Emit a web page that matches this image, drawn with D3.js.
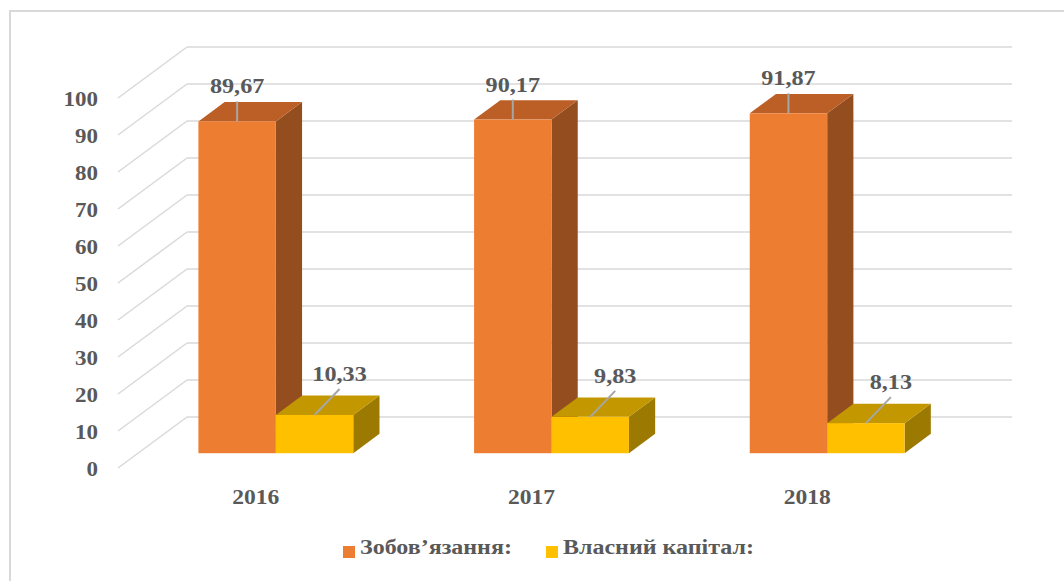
<!DOCTYPE html>
<html>
<head>
<meta charset="utf-8">
<script src="https://cdn.jsdelivr.net/npm/d3@7/dist/d3.min.js"></script>
<style>
  html, body { margin: 0; padding: 0; background: #ffffff; }
  svg { display: block; }
  text { font-family: "Liberation Serif", "Times New Roman", serif; font-weight: bold; fill: #595959; }
</style>
</head>
<body>
<svg id="chart" width="1064" height="581"></svg>
<script>
// ---- data ----
const years = ["2016", "2017", "2018"];
const seriesNames = ["Зобов’язання:", "Власний капітал:"];
const liabilities = [89.67, 90.17, 91.87];
const equity = [10.33, 9.83, 8.13];
const valueLabels = [["89,67", "90,17", "91,87"], ["10,33", "9,83", "8,13"]];
const yTicks = [0, 10, 20, 30, 40, 50, 60, 70, 80, 90, 100];

const seriesValues = [liabilities, equity];
const colors = [
  { front: "#ED7D31", top: "#BC5F26", side: "#934D1E" },
  { front: "#FFC000", top: "#C39700", side: "#9C7900" }
];

const svg = d3.select("#chart");

// text helper with horizontal stretch
function label(parent, x, y, txt, size, sx, anchor) {
  parent.append("text")
    .attr("transform", `translate(${x},${y}) scale(${sx},1)`)
    .attr("text-anchor", anchor)
    .style("font-size", size + "px")
    .text(txt);
}

// border
svg.append("rect").attr("x", 10).attr("y", 11).attr("width", 1070).attr("height", 600)
  .attr("fill", "none").attr("stroke", "#d9d9d9").attr("stroke-width", 2);

// scales (front plane)
const x0 = d3.scaleBand().domain(years).range([118, 945]).paddingInner(0).paddingOuter(0);
const x1 = d3.scaleBand().domain(seriesNames).range([0, x0.bandwidth()]).paddingInner(0).paddingOuter(0.78);
const y = d3.scaleLinear().domain([0, 100]).range([468, 98]);

// depth vector
const DX = 69, DY = -51;
const d0 = 0.29, d1 = 0.67;

// back wall gridlines
const g = svg.append("g");
g.selectAll("line.back").data(yTicks).join("line")
  .attr("x1", x0.range()[0] + DX).attr("x2", x0.range()[1] + DX - 2)
  .attr("y1", d => y(d) + DY).attr("y2", d => y(d) + DY)
  .attr("stroke", "#d9d9d9").attr("stroke-width", 1.5);
// side wall diagonals
g.selectAll("line.side").data(yTicks).join("line")
  .attr("x1", x0.range()[0]).attr("x2", x0.range()[0] + DX)
  .attr("y1", d => y(d)).attr("y2", d => y(d) + DY)
  .attr("stroke", "#d9d9d9").attr("stroke-width", 1.5);

// y axis labels
yTicks.forEach(t => label(svg, 98, y(t) + 8, t, 20, 1.15, "end"));

// bars
const ox0 = DX * d0, oy0 = DY * d0;
const dxb = DX * (d1 - d0), dyb = DY * (d1 - d0);
const bars = svg.append("g");
years.forEach((yr, i) => {
  seriesNames.forEach((s, si) => {
    const v = seriesValues[si][i];
    const xl = x0(yr) + x1(s) + ox0;
    const xr = xl + x1.bandwidth();
    const yb = y(0) + oy0;
    const yt = y(v) + oy0;
    const c = colors[si];
    bars.append("path")
      .attr("d", `M${xr},${yt}L${xr + dxb},${yt + dyb}L${xr + dxb},${yb + dyb}L${xr},${yb}Z`)
      .attr("fill", c.side);
    bars.append("path")
      .attr("d", `M${xl},${yt}L${xl + dxb},${yt + dyb}L${xr + dxb},${yt + dyb}L${xr},${yt}Z`)
      .attr("fill", c.top);
    bars.append("rect")
      .attr("x", xl).attr("y", yt).attr("width", xr - xl).attr("height", yb - yt)
      .attr("fill", c.front);
  });
});

// data labels + leader lines
years.forEach((yr, i) => {
  seriesNames.forEach((s, si) => {
    const v = seriesValues[si][i];
    const cx = x0(yr) + x1(s) + ox0 + x1.bandwidth() / 2;
    const yt = y(v) + oy0;
    let lx, lb;
    if (si === 0) { lx = cx; lb = yt - 28; }
    else { lx = cx + 25; lb = yt - 34; }
    svg.append("line")
      .attr("x1", lx).attr("y1", lb + 8).attr("x2", cx).attr("y2", yt)
      .attr("stroke", "#a6a6a6").attr("stroke-width", 2);
    label(svg, lx, lb, valueLabels[si][i], 22, 1.1, "middle");
  });
});

// category labels
years.forEach(yr => label(svg, x0(yr) + x0.bandwidth() / 2, 504, yr, 22, 1.07, "middle"));

// legend
const legendX = [343, 546];
seriesNames.forEach((s, si) => {
  svg.append("rect").attr("x", legendX[si]).attr("y", 546).attr("width", 12).attr("height", 12)
    .attr("fill", colors[si].front);
  label(svg, legendX[si] + 17, 554, s, 20, 1.2, "start");
});
</script>
</body>
</html>
